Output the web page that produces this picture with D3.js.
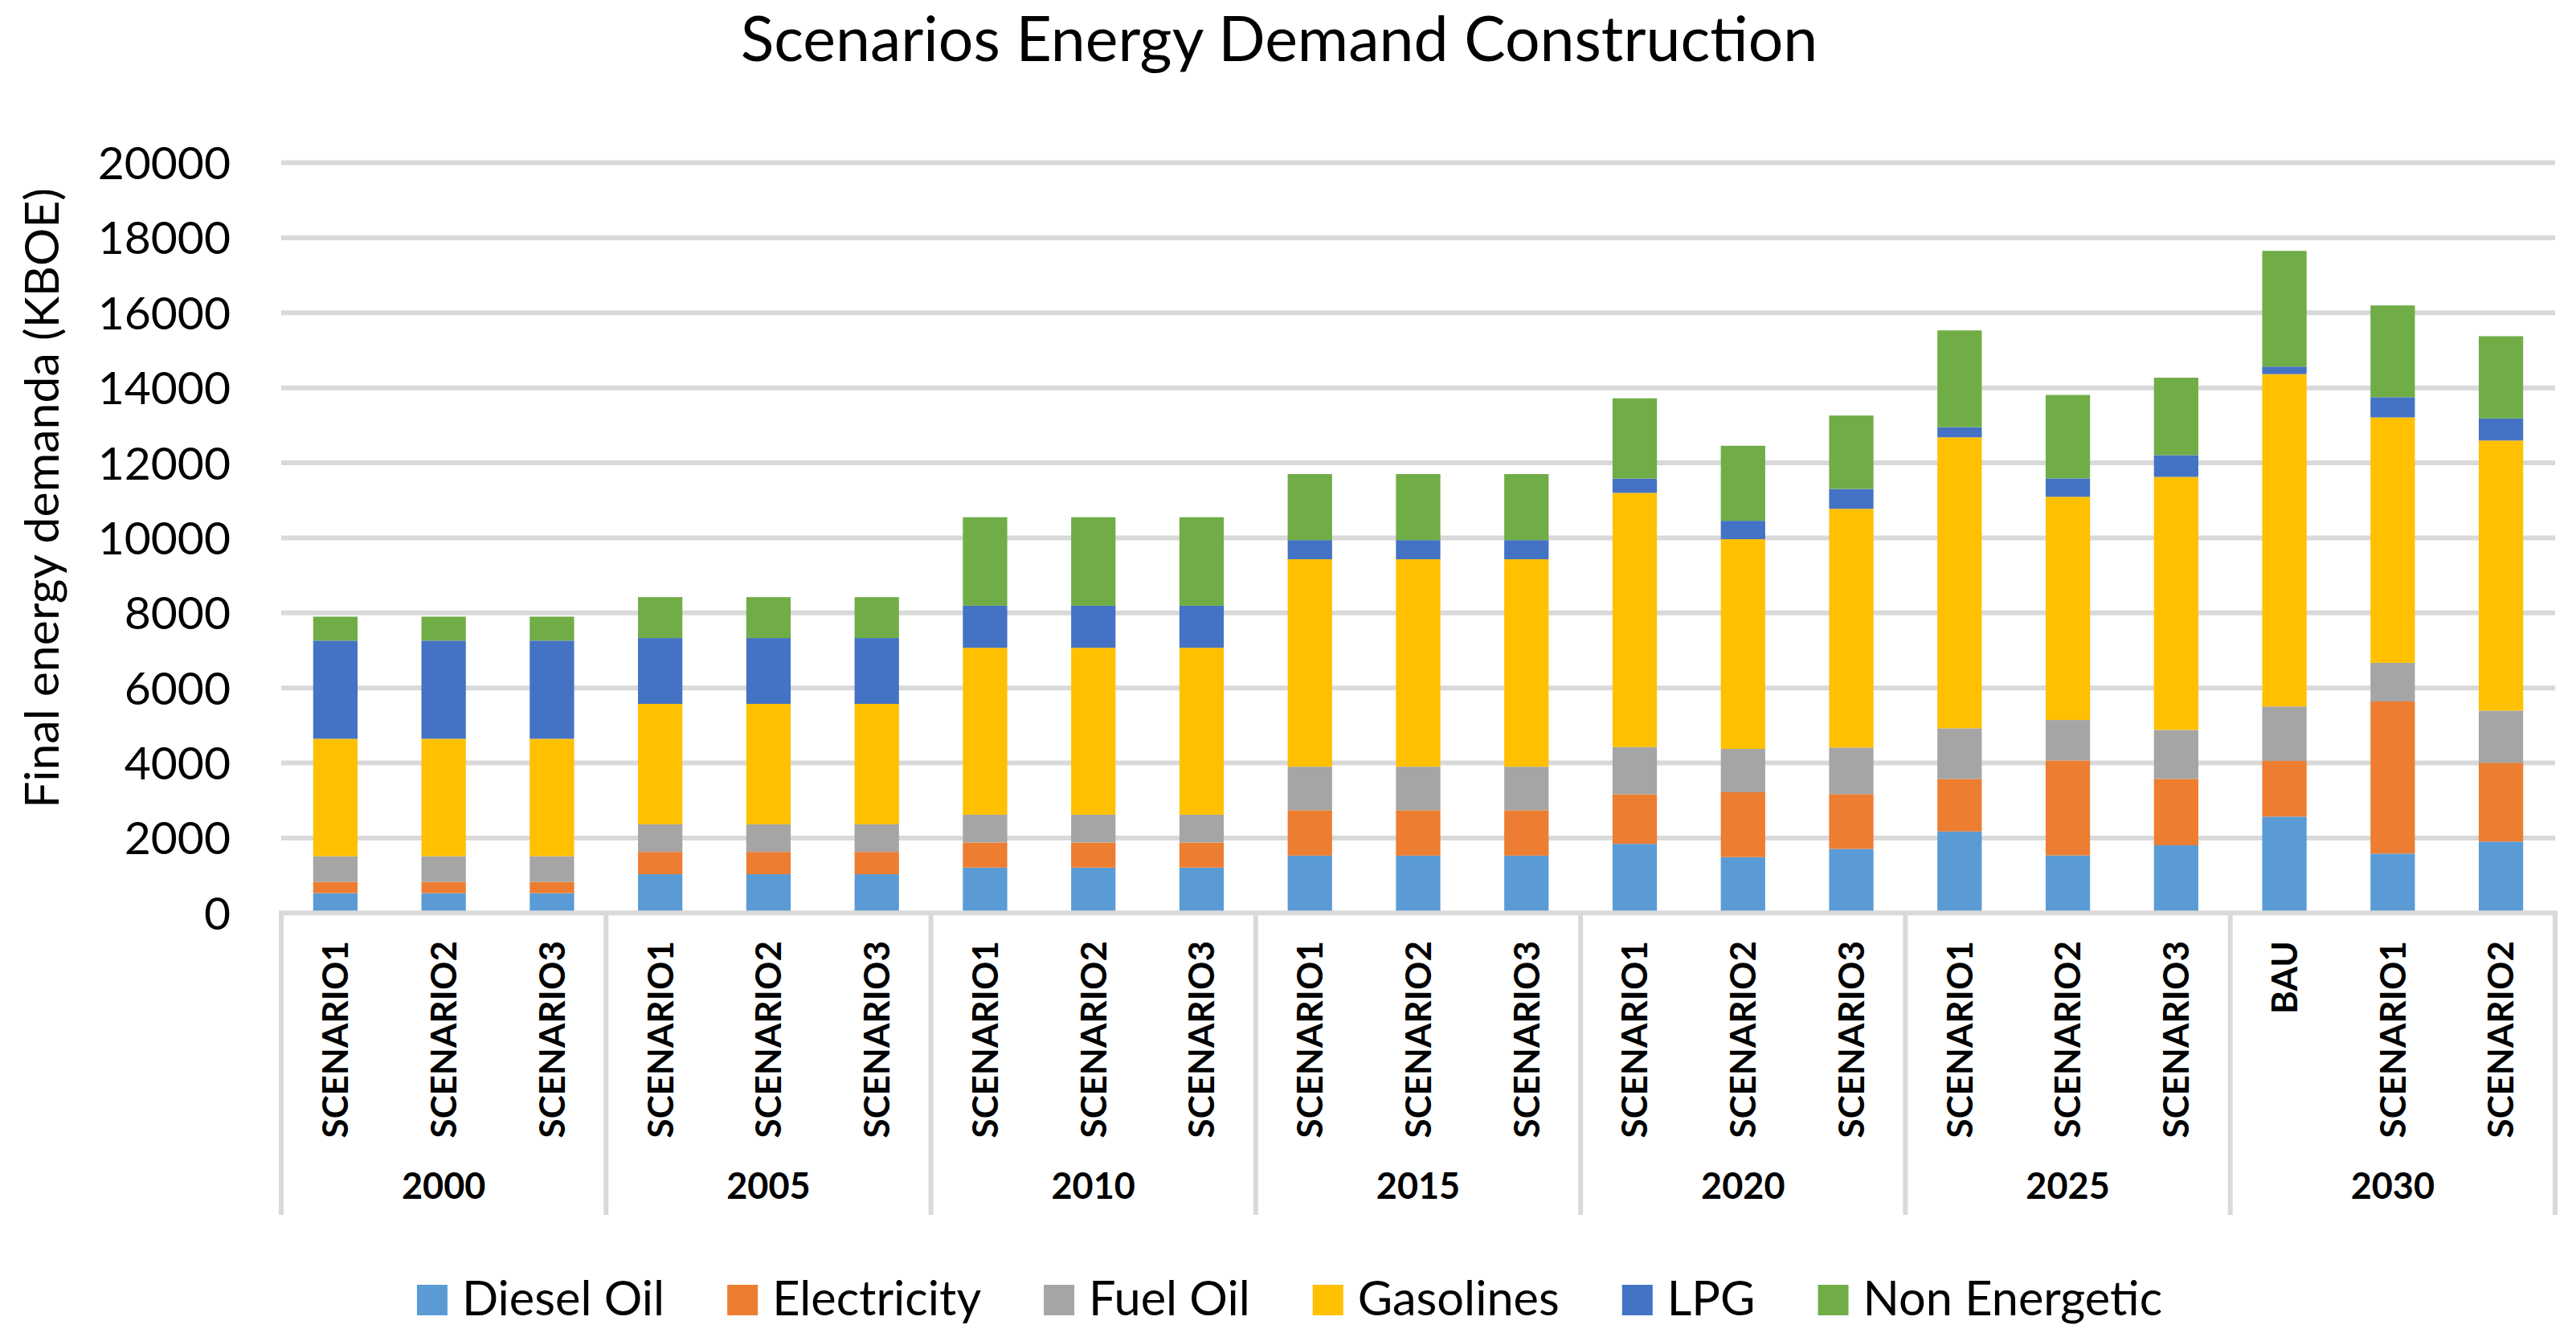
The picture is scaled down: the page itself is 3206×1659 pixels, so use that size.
<!DOCTYPE html>
<html>
<head>
<meta charset="utf-8">
<script src="https://cdn.jsdelivr.net/npm/d3@7"></script>
<style>
  html, body { margin: 0; padding: 0; background: #ffffff; }
  svg { display: block; }
  text { font-family: Lato, "Liberation Sans", sans-serif; fill: #000; }
</style>
</head>
<body>
<svg id="chart" width="3206" height="1659"></svg>
<script>
// ---------------- DATA ----------------
const title = "Scenarios Energy Demand Construction";
const yAxisTitle = "Final energy demanda (KBOE)";
const years = ["2000", "2005", "2010", "2015", "2020", "2025", "2030"];
const scenarioLabels = [
  "SCENARIO1","SCENARIO2","SCENARIO3",
  "SCENARIO1","SCENARIO2","SCENARIO3",
  "SCENARIO1","SCENARIO2","SCENARIO3",
  "SCENARIO1","SCENARIO2","SCENARIO3",
  "SCENARIO1","SCENARIO2","SCENARIO3",
  "SCENARIO1","SCENARIO2","SCENARIO3",
  "BAU","SCENARIO1","SCENARIO2"
];
const seriesNames = ["Diesel Oil", "Electricity", "Fuel Oil", "Gasolines", "LPG", "Non Energetic"];
const seriesColors = ["#5B9BD5", "#ED7D31", "#A5A5A5", "#FFC000", "#4472C4", "#70AD47"];

const dieselOil    = [530,530,530, 1035,1035,1035, 1210,1210,1210, 1530,1530,1530, 1845,1490,1710, 2175,1535,1805, 2570,1585,1905];
const electricity  = [300,300,300, 595,595,595, 670,670,670, 1210,1210,1210, 1320,1730,1460, 1400,2530,1770, 1485,4055,2100];
const fuelOil      = [685,685,685, 735,735,735, 740,740,740, 1160,1160,1160, 1260,1155,1240, 1350,1080,1305, 1450,1030,1390];
const gasolines    = [3130,3130,3130, 3210,3210,3210, 4450,4450,4450, 5530,5530,5530, 6775,5590,6365, 7755,5950,6745, 8860,6540,7200];
const lpg          = [2615,2615,2615, 1755,1755,1755, 1120,1120,1120, 510,510,510, 380,490,530, 270,490,580, 200,540,590];
const nonEnergetic = [640,640,640, 1090,1090,1090, 2360,2360,2360, 1760,1760,1760, 2140,2000,1955, 2580,2225,2065, 3085,2445,2190];

const yTicks = [0, 2000, 4000, 6000, 8000, 10000, 12000, 14000, 16000, 18000, 20000];

// ---------------- LAYOUT ----------------
const svg = d3.select("#chart");
const plot = { left: 350, right: 3180, top: 202.5, bottom: 1136.3 };
const gridColor = "#d9d9d9";

const seriesValues = [dieselOil, electricity, fuelOil, gasolines, lpg, nonEnergetic];
const rows = scenarioLabels.map((s, i) => {
  const r = { idx: i, scenario: s, year: years[Math.floor(i / 3)] };
  seriesNames.forEach((n, k) => r[n] = seriesValues[k][i]);
  return r;
});

const x = d3.scaleBand()
  .domain(rows.map(r => r.idx))
  .range([plot.left, plot.right])
  .paddingInner(0.59)
  .paddingOuter(0.295);

const y = d3.scaleLinear().domain([0, 20000]).range([plot.bottom, plot.top]);

// gridlines
svg.append("g").selectAll("line")
  .data(yTicks.filter(t => t > 0))
  .join("line")
  .attr("x1", plot.left).attr("x2", plot.right)
  .attr("y1", d => y(d)).attr("y2", d => y(d))
  .attr("stroke", gridColor).attr("stroke-width", 6);

// y tick labels
svg.append("g").selectAll("text")
  .data(yTicks)
  .join("text")
  .attr("x", 287)
  .attr("y", d => y(d))
  .attr("dy", "0.36em")
  .attr("text-anchor", "end")
  .style("font-size", "57px")
  .text(d => d);

// stacked bars
const stack = d3.stack().keys(seriesNames);
const stacked = stack(rows);
svg.append("g").selectAll("g")
  .data(stacked)
  .join("g")
  .attr("fill", (d, i) => seriesColors[i])
  .selectAll("rect")
  .data(d => d)
  .join("rect")
  .attr("x", d => x(d.data.idx))
  .attr("width", x.bandwidth())
  .attr("y", d => y(d[1]))
  .attr("height", d => y(d[0]) - y(d[1]));

// category axis line
svg.append("line")
  .attr("x1", plot.left - 3).attr("x2", plot.right + 3)
  .attr("y1", plot.bottom).attr("y2", plot.bottom)
  .attr("stroke", gridColor).attr("stroke-width", 6);

// group separators
const groupW = (plot.right - plot.left) / years.length;
svg.append("g").selectAll("line")
  .data(d3.range(years.length + 1))
  .join("line")
  .attr("x1", d => plot.left + d * groupW).attr("x2", d => plot.left + d * groupW)
  .attr("y1", plot.bottom).attr("y2", 1512)
  .attr("stroke", gridColor).attr("stroke-width", 6);

// scenario labels
svg.append("g").selectAll("text")
  .data(rows)
  .join("text")
  .attr("transform", d => `translate(${x(d.idx) + x.bandwidth() / 2},1171) rotate(-90)`)
  .attr("text-anchor", "end")
  .attr("dy", "0.36em")
  .style("font-size", "44px")
  .style("font-weight", "bold")
  .text(d => d.scenario);

// year labels
svg.append("g").selectAll("text")
  .data(years)
  .join("text")
  .attr("x", (d, i) => plot.left + (i + 0.5) * groupW)
  .attr("y", 1492)
  .attr("text-anchor", "middle")
  .style("font-size", "45px")
  .style("font-weight", "bold")
  .text(d => d);

// title
svg.append("text")
  .attr("x", 1592).attr("y", 76)
  .attr("text-anchor", "middle")
  .style("font-size", "77px")
  .text(title);

// y axis title
svg.append("text")
  .attr("transform", "translate(52,620) rotate(-90)")
  .attr("text-anchor", "middle")
  .attr("dy", "0.36em")
  .style("font-size", "59px")
  .text(yAxisTitle);

// legend
const legend = svg.append("g");
const items = legend.selectAll("g")
  .data(seriesNames)
  .join("g");
items.append("rect")
  .attr("width", 38).attr("height", 38)
  .attr("y", 1599)
  .attr("fill", (d, i) => seriesColors[i]);
items.append("text")
  .attr("y", 1637)
  .style("font-size", "59.5px")
  .text(d => d);
let cursor = 0;
const offsets = [];
items.each(function () {
  const w = d3.select(this).select("text").node().getComputedTextLength();
  offsets.push(cursor);
  cursor += 38 + 18 + w + 78;
});
const totalW = cursor - 78;
const startX = 1605 - totalW / 2;
items.each(function (d, i) {
  const g = d3.select(this);
  g.select("rect").attr("x", startX + offsets[i]);
  g.select("text").attr("x", startX + offsets[i] + 38 + 18);
});
</script>
</body>
</html>
